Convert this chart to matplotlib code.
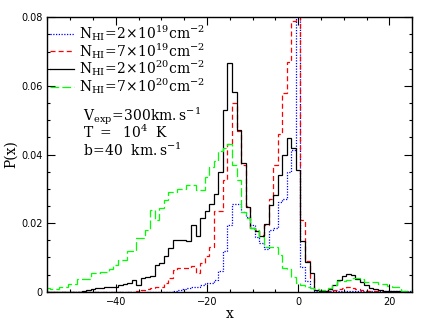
import numpy as np
import matplotlib
matplotlib.use("Agg")
import matplotlib.pyplot as plt

plt.rcParams['mathtext.fontset'] = 'dejavuserif'
plt.rcParams['font.family'] = ['DejaVu Serif']

# bin centres (x) of the histograms
x_centers = list(range(-55, 26))

p_2e19 = [0,0,0,0,0,0,0,0,0,0,
          0,0,0,0,0,0,0,0,0,0,
          0,0,0,0,0,0,0,0,0.0003,0.0005,
          0.0008,0.0012,0.0015,0.0015,0.002,0.0025,0.0025,0.0035,0.006,0.012,
          0.0195,0.0255,0.0255,0.0233,0.0219,0.0194,0.016,0.0141,0.0125,0.018,
          0.0186,0.0262,0.027,0.035,0.0413,0.15,0.0073,0.003,0.001,0.0003,
          0.0003,0.0003,0.0003,0.0003,0.0003,0.0003,0.0003,0.0003,0.0003,0.0003,
          0.0001,0.0001,0.0001,0.0001,0.0001,0.0001,0.0001,0.0001,0.0001,0.0001,
          0.0001]

p_7e19 = [0,0,0,0,0,0,0,0,0,0,
          0,0,0,0,0,0,0,0,0,0,
          0.0003,0.0005,0.0008,0.001,0.0015,0.0015,0.0025,0.0039,0.0063,0.0068,
          0.0068,0.0068,0.0075,0.0055,0.0085,0.0105,0.0131,0.0235,0.0235,0.0325,
          0.043,0.055,0.047,0.037,0.025,0.0185,0.018,0.0165,0.0195,0.027,
          0.037,0.046,0.058,0.067,0.079,0.15,0.0209,0.009,0.004,0.0005,
          0.0003,0.0003,0.0003,0.0005,0.0008,0.001,0.0015,0.001,0.0008,0.0005,
          0.0003,0.0002,0.0002,0.0001,0,0,0,0,0,0,
          0]

p_2e20 = [0,0,0,0,0,0,0,0,0.0003,0.0005,
          0.0008,0.001,0.0012,0.0015,0.0015,0.0015,0.002,0.0022,0.0025,0.0034,
          0.002,0.0039,0.0042,0.0045,0.0078,0.0085,0.0105,0.0127,0.0151,0.015,
          0.015,0.0148,0.0193,0.0163,0.0214,0.0235,0.0255,0.0285,0.035,0.053,
          0.0666,0.0583,0.0471,0.0374,0.0248,0.0185,0.0178,0.0162,0.0196,0.0253,
          0.0282,0.034,0.0399,0.0449,0.042,0.0355,0.0148,0.0087,0.0054,0.0005,
          0.0003,0.0003,0.0008,0.002,0.0034,0.0045,0.0052,0.0048,0.0037,0.0027,
          0.002,0.0012,0.0008,0.0005,0.0003,0.0002,0.0001,0.0001,0,0,
          0]

p_7e20 = [0.001,0.0008,0.0008,0.0015,0.0015,0.0022,0.0022,0.0036,0.0036,0.0038,
          0.0054,0.0054,0.0056,0.0056,0.0065,0.0078,0.0092,0.0092,0.012,0.012,
          0.0156,0.0156,0.018,0.0238,0.0209,0.0243,0.0267,0.029,0.029,0.03,
          0.03,0.0311,0.031,0.0297,0.0297,0.0335,0.0364,0.038,0.041,0.042,
          0.043,0.037,0.0326,0.0233,0.0215,0.0185,0.018,0.016,0.0131,0.013,
          0.013,0.0107,0.0068,0.0065,0.0044,0.0025,0.002,0.0015,0.001,0.0008,
          0.0006,0.0006,0.001,0.002,0.003,0.003,0.0034,0.0041,0.0041,0.0037,
          0.0027,0.0027,0.0027,0.0021,0.0021,0.0018,0.0015,0.0015,0.0003,0.0003,
          0.0003]

labels = [r'$\mathrm{N_{HI}\!=\!2\!\times\!10^{19}cm^{-2}}$',
          r'$\mathrm{N_{HI}\!=\!7\!\times\!10^{19}cm^{-2}}$',
          r'$\mathrm{N_{HI}\!=\!2\!\times\!10^{20}cm^{-2}}$',
          r'$\mathrm{N_{HI}\!=\!7\!\times\!10^{20}cm^{-2}}$']

edges = np.array(x_centers + [x_centers[-1] + 1], dtype=float) - 0.5

fig = plt.figure(figsize=(4.36, 3.27), dpi=100)
ax = fig.add_axes([0.1085, 0.108, 0.837, 0.839])

styles = [dict(color='#0000ff', linestyle=(0, (1, 1.2))),
          dict(color='#ff0000', linestyle=(0, (4, 2.5))),
          dict(color='black', linestyle='-'),
          dict(color='#00ff00', linestyle=(0, (7, 2.5)))]
series = [p_2e19, p_7e19, p_2e20, p_7e20]
for vals, st, lab in zip(series, styles, labels):
    ax.stairs(vals, edges, baseline=None, linewidth=0.9, label=lab, **st)

ax.set_xlim(-55, 25)
ax.set_ylim(0, 0.08)
ax.set_xticks([-40, -20, 0, 20])
ax.set_xticks(np.arange(-55, 26, 5), minor=True)
ax.set_yticks([0, 0.02, 0.04, 0.06, 0.08])
ax.set_yticklabels(['0', '0.02', '0.04', '0.06', '0.08'])
ax.set_yticks(np.arange(0, 0.0801, 0.005), minor=True)
ax.tick_params(which='both', direction='in', top=True, right=True,
               labelsize=7, labelfontfamily='DejaVu Sans', width=0.8)
ax.tick_params(which='major', length=5.5)
ax.tick_params(which='minor', length=2.5)
for s in ax.spines.values():
    s.set_linewidth(1.0)

ax.set_xlabel('x', fontsize=10, labelpad=0)
ax.set_ylabel('P(x)', fontsize=10, labelpad=2)

ax.legend(loc='upper left', bbox_to_anchor=(0.0, 0.988), frameon=False,
          fontsize=10, handlelength=1.75, handletextpad=0.35,
          labelspacing=-0.15, borderaxespad=0.05, borderpad=0.15)

ax.text(0.098, 0.622, r'$\mathrm{V_{exp}\!=\!300km.s^{-1}}$', transform=ax.transAxes,
        fontsize=10, va='baseline')
ax.text(0.098, 0.560, r'$\mathrm{T\ =\ \ 10^{4}\ \ K}$', transform=ax.transAxes,
        fontsize=10, va='baseline')
ax.text(0.098, 0.496, r'$\mathrm{b\!=\!40\ \ km.s^{-1}}$', transform=ax.transAxes,
        fontsize=10, va='baseline')

fig.savefig('out.png', dpi=100)
